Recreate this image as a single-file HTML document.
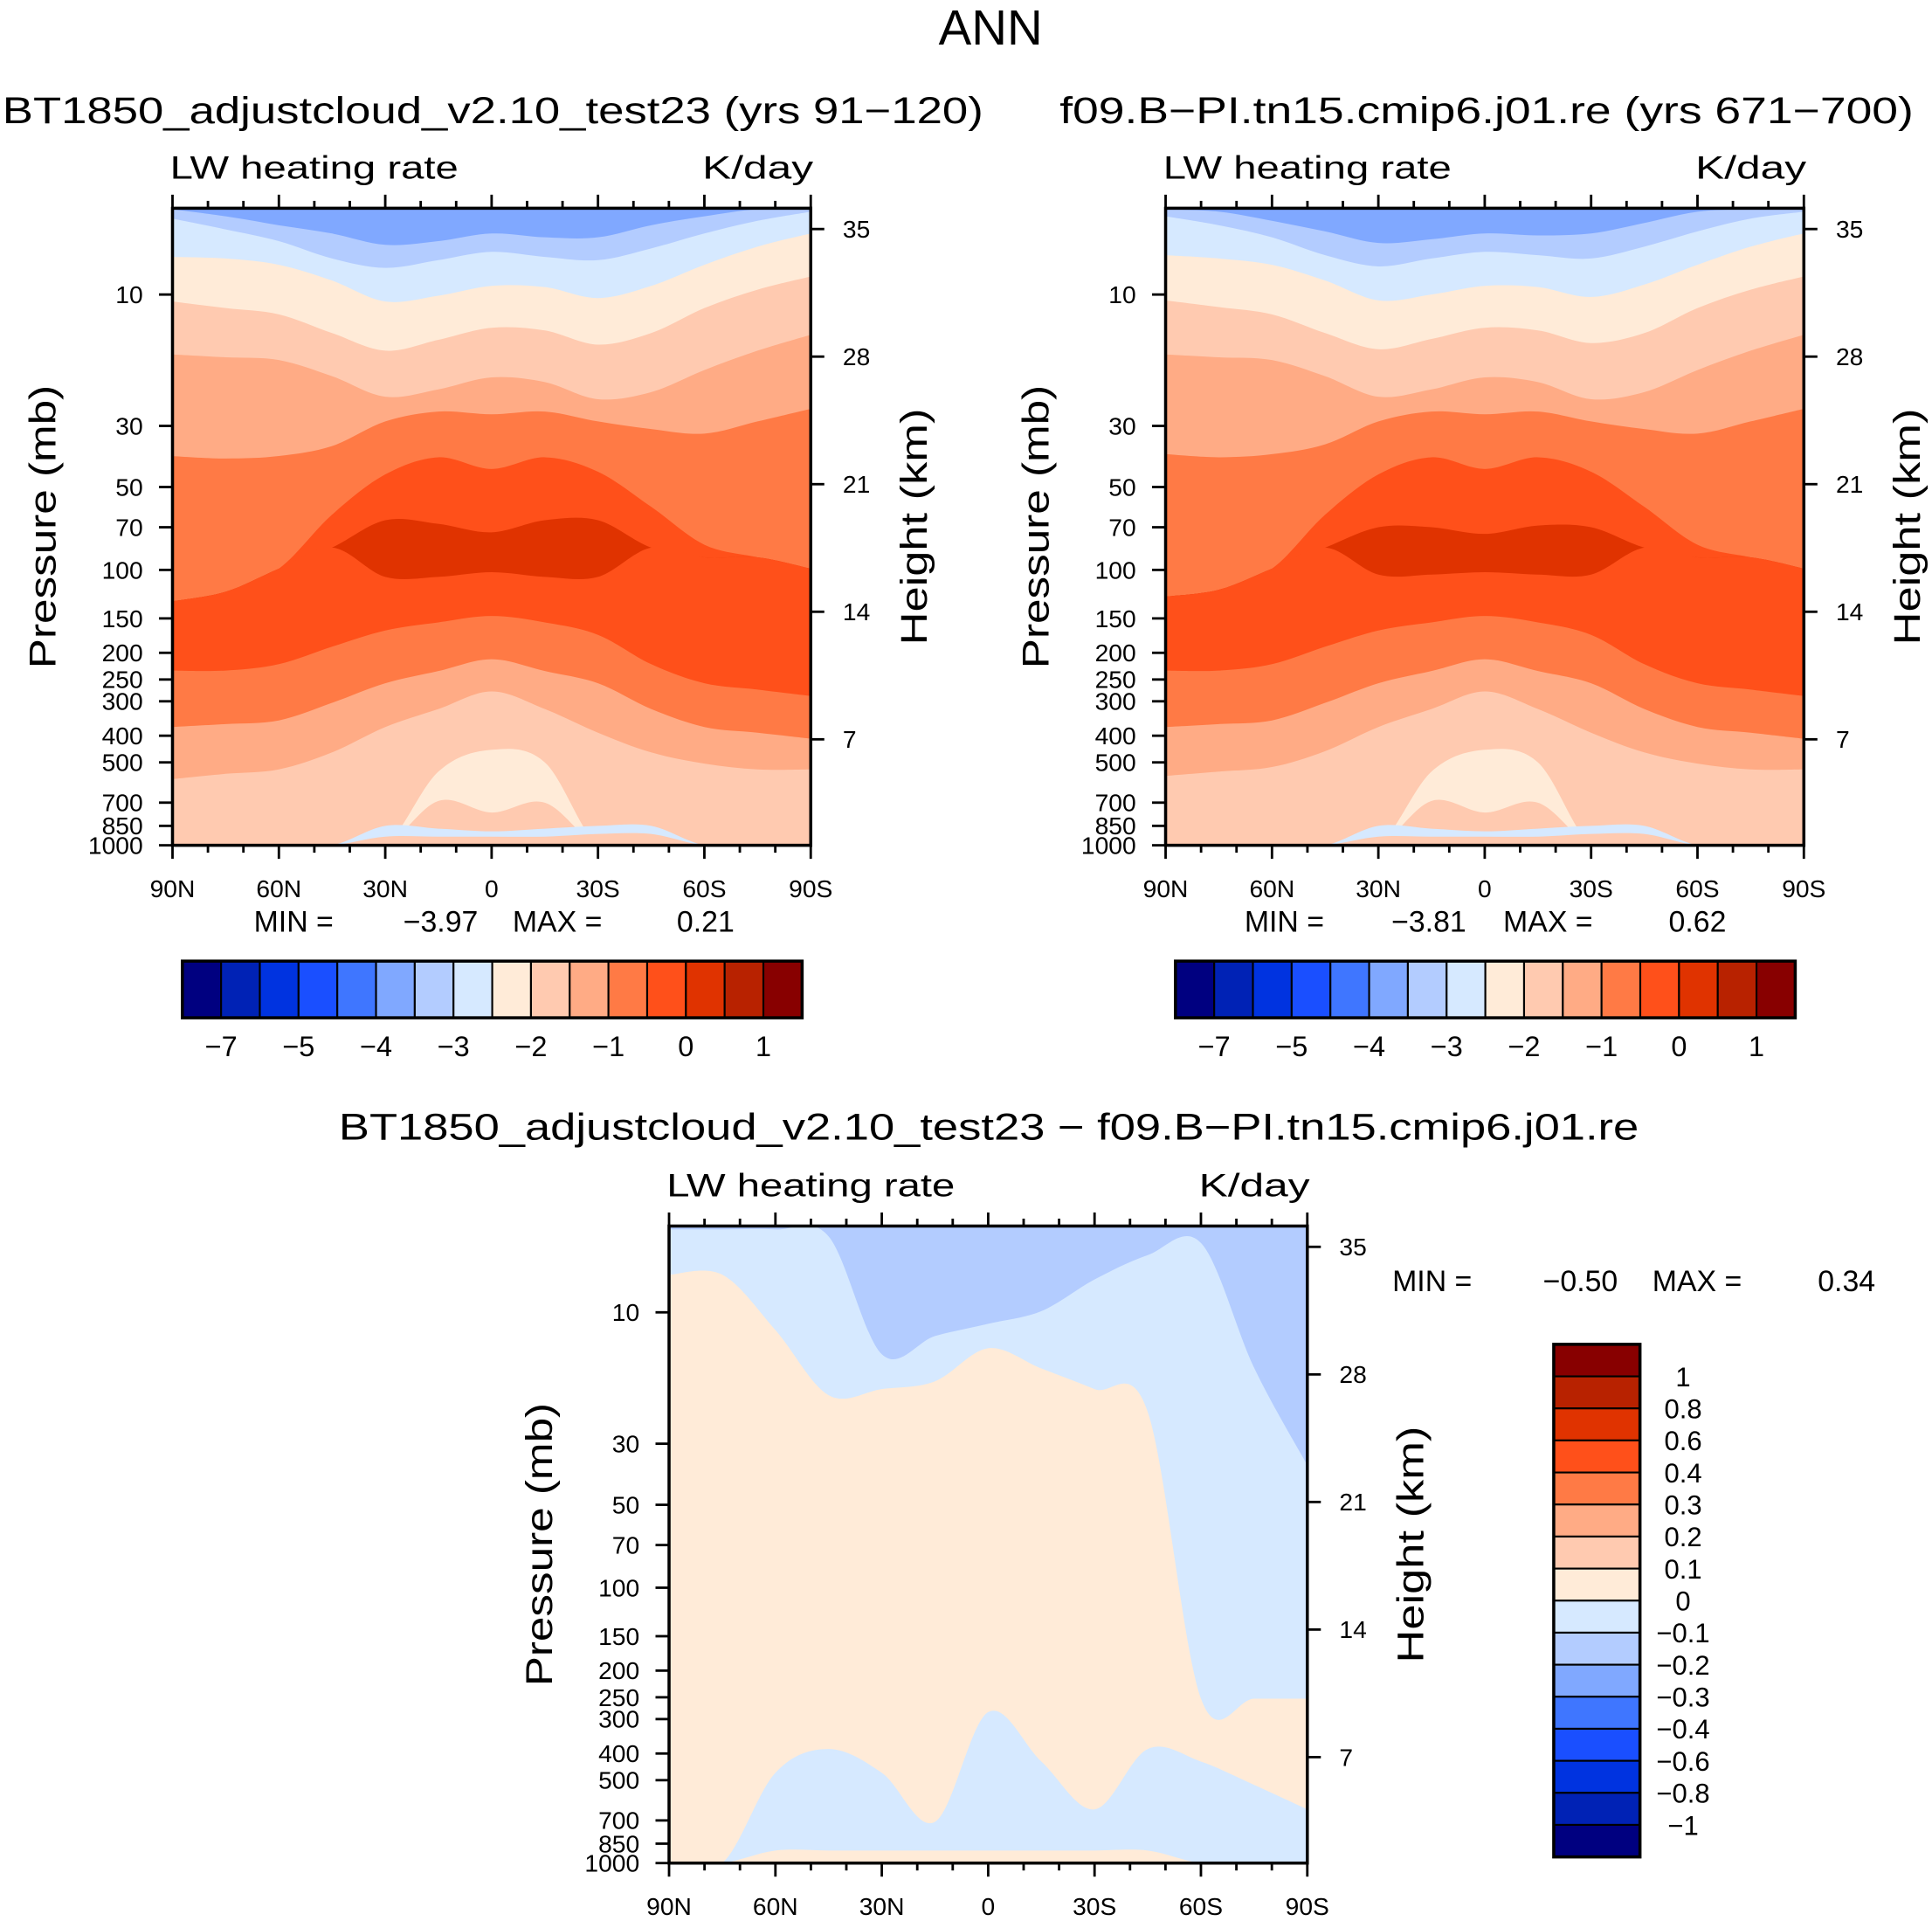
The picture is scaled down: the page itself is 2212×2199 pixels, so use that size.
<!DOCTYPE html>
<html><head><meta charset="utf-8"><style>
html,body{margin:0;padding:0;background:#fff}
svg{display:block}
text{font-family:"Liberation Sans",sans-serif;fill:#000}
</style></head><body>
<svg id="fig" xmlns="http://www.w3.org/2000/svg" width="2212" height="2199" viewBox="0 0 1568 1559" preserveAspectRatio="none">
<text x="804" y="36" font-size="40" text-anchor="middle">ANN</text>
<text x="2" y="100" font-size="30" textLength="796" lengthAdjust="spacingAndGlyphs">BT1850_adjustcloud_v2.10_test23 (yrs 91−120)</text>
<text x="860" y="100" font-size="30" textLength="693" lengthAdjust="spacingAndGlyphs">f09.B−PI.tn15.cmip6.j01.re (yrs 671−700)</text>
<text x="275" y="925" font-size="30" textLength="1055" lengthAdjust="spacingAndGlyphs">BT1850_adjustcloud_v2.10_test23 − f09.B−PI.tn15.cmip6.j01.re</text>
<g id="layer"></g>
</svg>
<script>
const palette=["#000080","#0022b5","#0033e0","#1a4fff","#3f76ff","#80a8ff","#b3ccff","#d6e9ff","#ffebd8","#ffcab0","#ffab85","#ff7a45","#ff501a","#e03300","#b82200","#880000"];
const lats=[90,75,60,45,30,15,0,-15,-30,-45,-60,-75,-90];
const pressureTicks=[10,30,50,70,100,150,200,250,300,400,500,700,850,1000];
const heightTicks=[7,14,21,28,35];
const latTickLabels=["90N","60N","30N","0","30S","60S","90S"];
const topBarLabels=["−7","−5","−4","−3","−2","−1","0","1"];
const diffBarLabels=["1","0.8","0.6","0.4","0.3","0.2","0.1","0","−0.1","−0.2","−0.3","−0.4","−0.6","−0.8","−1"];
// layer colour indices (top to bottom) for the full-field panels
const fieldLayers=[5,6,7,8,9,10,11,12,13,12,11,10,9,8,9,7,9];
// contour boundaries (pressure, mb) at each latitude - left panel
const leftBounds=[
[4.9,5.2,5.6,6.0,6.6,6.4,6.0,6.2,6.2,5.6,5.2,4.9,4.9],
[5.3,5.8,6.4,7.4,8.0,7.5,7.0,7.3,7.5,6.8,6.0,5.4,5.0],
[7.3,7.4,7.8,8.9,10.6,10.1,9.3,9.4,10.3,9.3,7.8,6.7,6.0],
[10.6,11.2,11.8,13.8,16,14.6,13.2,13.5,15.2,13.8,11.2,9.6,8.6],
[16.5,16.9,17.3,19.8,23.5,22.1,20,20.8,24,22.6,18.8,16,14],
[38.6,39.4,38.6,35.5,28.9,26.6,27.2,26.6,28.9,30.8,32,28.9,26],
[130,120,99,63,45,39,43,39,44,59,81,90,99],
[130,120,99,83,66,68,73,66,66,83,90,90,99],
[130,120,99,83,106,106,102,106,106,83,90,90,99],
[232,232,220,190,166,155,147,155,172,220,258,272,287],
[372,363,352,304,258,233,211,233,258,320,372,390,410],
[575,550,530,460,372,320,276,320,390,460,505,530,530],
[1000,1000,1000,1000,1000,540,450,500,1000,1000,1000,1000,1000],
[1000,1000,1000,1000,1000,690,760,700,1000,1000,1000,1000,1000],
[1000,1000,1000,1000,850,870,890,870,850,850,1000,1000,1000],
[1000,1000,1000,1000,930,930,930,930,910,910,1000,1000,1000]];
const rightBounds=[
[4.9,5.0,5.4,5.9,6.5,6.3,6.0,6.1,6.0,5.5,5.0,4.9,4.9],
[5.2,5.6,6.2,7.2,7.9,7.4,7.0,7.2,7.4,6.7,5.9,5.3,5.0],
[7.2,7.4,7.8,8.9,10.5,10.0,9.3,9.4,10.2,9.2,7.8,6.7,6.0],
[10.5,11.1,11.8,13.8,15.8,14.5,13.2,13.5,15.0,13.8,11.2,9.6,8.6],
[16.5,16.9,17.3,19.8,23.5,22.1,20,20.8,24,22.6,18.8,16,14],
[38,39,38,35,28.9,26.6,27.2,26.6,28.9,30.8,32,28.9,26],
[125,118,99,63,45,39,43,39,44,59,81,90,99],
[125,118,99,83,70,70,74,69,70,83,90,90,99],
[125,118,99,83,104,104,102,104,104,83,90,90,99],
[232,232,220,190,166,155,147,155,172,220,258,272,287],
[372,363,352,304,258,233,211,233,258,320,372,390,410],
[560,540,520,455,372,320,276,320,390,460,505,530,530],
[1000,1000,1000,1000,1000,540,450,500,1000,1000,1000,1000,1000],
[1000,1000,1000,1000,1000,690,760,700,1000,1000,1000,1000,1000],
[1000,1000,1000,1000,850,870,890,870,850,850,1000,1000,1000],
[1000,1000,1000,1000,930,930,930,930,910,910,1000,1000,1000]];
// difference panel regions (upper/lower pressure boundaries)
const diffLightTopLower=[7.3,7.3,11.6,20,19,17.8,13.5,16,19,23,253,253,253];
const diffDarkUpper=[4.86,4.86,4.86,4.86,4.86,4.86,4.86,4.86,4.86,4.86,4.86,4.86,4.86];
const diffDarkLower=[5.0,5.0,5.0,5.3,14.2,12.2,11,9.9,7.6,6.2,5.6,15.9,35.9];
const diffLightLowUpper=[1000,1000,470,385,470,708,283,428,638,385,428,520,638];
const diffLightLowLower=[1000,1000,900,900,900,900,900,900,900,900,1000,1000,1000];

const NS="http://www.w3.org/2000/svg";
const root=document.getElementById('layer');
function mk(tag,attrs,parent){const e=document.createElementNS(NS,tag);for(const k in attrs)e.setAttribute(k,attrs[k]);(parent||root).appendChild(e);return e;}
const W=518,H=517,PTOP=4.86;
function axes(x0,y0){return{x:lat=>x0+(90-lat)/180*W,y:p=>y0+H-(3-Math.log10(p))/(3-Math.log10(PTOP))*H};}
function smooth(pts){let d="";for(let i=0;i<pts.length-1;i++){const p0=pts[Math.max(0,i-1)],p1=pts[i],p2=pts[i+1],p3=pts[Math.min(pts.length-1,i+2)];
const c1=[p1[0]+(p2[0]-p0[0])/6,p1[1]+(p2[1]-p0[1])/6],c2=[p2[0]-(p3[0]-p1[0])/6,p2[1]-(p3[1]-p1[1])/6];
d+=` C${c1[0].toFixed(1)},${c1[1].toFixed(1)} ${c2[0].toFixed(1)},${c2[1].toFixed(1)} ${p2[0].toFixed(1)},${p2[1].toFixed(1)}`;}return d;}
let clipN=0;
function frame(x0,y0,g){
  const ax=axes(x0,y0);
  const f=mk('rect',{x:x0,y:y0,width:W,height:H,fill:'none',stroke:'#000','stroke-width':2.5},g);
  
  
  for(let l=90;l>=-90;l-=10){const x=ax.x(l);const L=(l%30===0)?11:6;
    mk('line',{x1:x,y1:y0,x2:x,y2:y0-L,stroke:'#000','stroke-width':2},g);
    mk('line',{x1:x,y1:y0+H,x2:x,y2:y0+H+L,stroke:'#000','stroke-width':2},g);}
  latTickLabels.forEach((s,i)=>{const t=mk('text',{x:ax.x(90-30*i),y:y0+H+42,'font-size':20,'text-anchor':'middle'},g);t.textContent=s;
    
    });
  pressureTicks.forEach(p=>{const y=ax.y(p);mk('line',{x1:x0,y1:y,x2:x0-11,y2:y,stroke:'#000','stroke-width':2},g);
    const t=mk('text',{x:x0-24,y:y+7,'font-size':20,'text-anchor':'end'},g);t.textContent=p;
    
    });
  heightTicks.forEach(h=>{const y=y0+431-(h-7)*14.79;mk('line',{x1:x0+W,y1:y,x2:x0+W+11,y2:y,stroke:'#000','stroke-width':2},g);
    const t=mk('text',{x:x0+W+26,y:y+7,'font-size':20},g);t.textContent=h;
    
    });
  const a=mk('text',{x:x0-2,y:y0-24,'font-size':26,textLength:234,lengthAdjust:'spacingAndGlyphs'},g);a.textContent='LW heating rate';
  
  
  const b=mk('text',{x:x0+W-88,y:y0-24,'font-size':26,textLength:90,lengthAdjust:'spacingAndGlyphs'},g);b.textContent='K/day';
  
  
  const yc=y0+H/2;
  const c=mk('text',{x:0,y:0,'font-size':30,'text-anchor':'middle',textLength:230,lengthAdjust:'spacingAndGlyphs',transform:`translate(${x0-95},${yc}) rotate(-90)`},g);c.textContent='Pressure (mb)';
  
  
  const d=mk('text',{x:0,y:0,'font-size':30,'text-anchor':'middle',textLength:192,lengthAdjust:'spacingAndGlyphs',transform:`translate(${x0+W+94},${yc}) rotate(-90)`},g);d.textContent='Height (km)';
  
  
}
function clip(x0,y0,g){const id='c'+(clipN++);const cp=mk('clipPath',{id:id},g);mk('rect',{x:x0,y:y0,width:W,height:H},cp);return mk('g',{'clip-path':`url(#${id})`},g);}
function fieldPanel(x0,y0,bounds,name){
  const g=mk('g',{});
  
  
  const ax=axes(x0,y0);const cg=clip(x0,y0,g);
  mk('rect',{x:x0,y:y0,width:W,height:H,fill:palette[fieldLayers[0]]},cg);
  bounds.forEach((arr,i)=>{const pts=lats.map((l,j)=>[ax.x(l),ax.y(arr[j])]);
    const d=`M${pts[0][0]},${pts[0][1]}`+smooth(pts)+` L${x0+W},${y0+H+5} L${x0},${y0+H+5} Z`;
    const p=mk('path',{d:d,fill:palette[fieldLayers[i+1]]},cg);
    
    });
  frame(x0,y0,g);
}
function region(ax,up,lo,color,cg){
  const a=lats.map((l,j)=>[ax.x(l),ax.y(up[j])]);const b=lats.map((l,j)=>[ax.x(l),ax.y(lo[j])]).reverse();
  const d=`M${a[0][0]},${a[0][1]}`+smooth(a)+` L${b[0][0]},${b[0][1]}`+smooth(b)+' Z';
  const p=mk('path',{d:d,fill:color},cg);
  
  
}
fieldPanel(140,169,leftBounds,'left-contour-panel');
fieldPanel(946,169,rightBounds,'right-contour-panel');
(function(){
  const x0=543,y0=995;const g=mk('g',{});
  
  
  const ax=axes(x0,y0);const cg=clip(x0,y0,g);
  mk('rect',{x:x0,y:y0,width:W,height:H,fill:palette[8]},cg);
  region(ax,lats.map(()=>PTOP),diffLightTopLower,palette[7],cg);
  region(ax,diffDarkUpper,diffDarkLower,palette[6],cg);
  region(ax,diffLightLowUpper,diffLightLowLower,palette[7],cg);
  frame(x0,y0,g);
})();
function hbar(x0,y0,name){const g=mk('g',{});
  
  
  const bw=503/16;
  palette.forEach((c,i)=>{const r=mk('rect',{x:x0+i*bw,y:y0,width:bw,height:46,fill:c,stroke:'#000','stroke-width':1.5},g);
    
    });
  mk('rect',{x:x0,y:y0,width:503,height:46,fill:'none',stroke:'#000','stroke-width':2.5},g);
  topBarLabels.forEach((s,i)=>{const t=mk('text',{x:x0+(1+2*i)*bw,y:y0+77,'font-size':23,'text-anchor':'middle'},g);t.textContent=s;
    
    });}
hbar(148,780,'left-colorbar');hbar(954,780,'right-colorbar');
(function(){const g=mk('g',{});
  
  
  const x0=1261,y0=1091,bh=26;
  palette.slice().reverse().forEach((c,i)=>{const r=mk('rect',{x:x0,y:y0+i*bh,width:70,height:bh,fill:c,stroke:'#000','stroke-width':1.5},g);
    
    });
  mk('rect',{x:x0,y:y0,width:70,height:416,fill:'none',stroke:'#000','stroke-width':2.5},g);
  diffBarLabels.forEach((s,i)=>{const t=mk('text',{x:1366,y:y0+(i+1)*bh+8,'font-size':22,'text-anchor':'middle'},g);t.textContent=s;
    
    });})();
function minmax(xm,xv,xM,xV,y,vmin,vmax,name){const g=mk('g',{});
  
  
  [[xm,'MIN =','start'],[xv,vmin,'end'],[xM,'MAX =','start'],[xV,vmax,'end']].forEach(a=>{const t=mk('text',{x:a[0],y:y,'font-size':24,'text-anchor':a[2]},g);t.textContent=a[1];});}
minmax(206,388,416,596,756,'−3.97','0.21','left-minmax');
minmax(1010,1190,1220,1401,756,'−3.81','0.62','right-minmax');
minmax(1130,1313,1341,1522,1048,'−0.50','0.34','diff-minmax');
</script>
</body></html>
